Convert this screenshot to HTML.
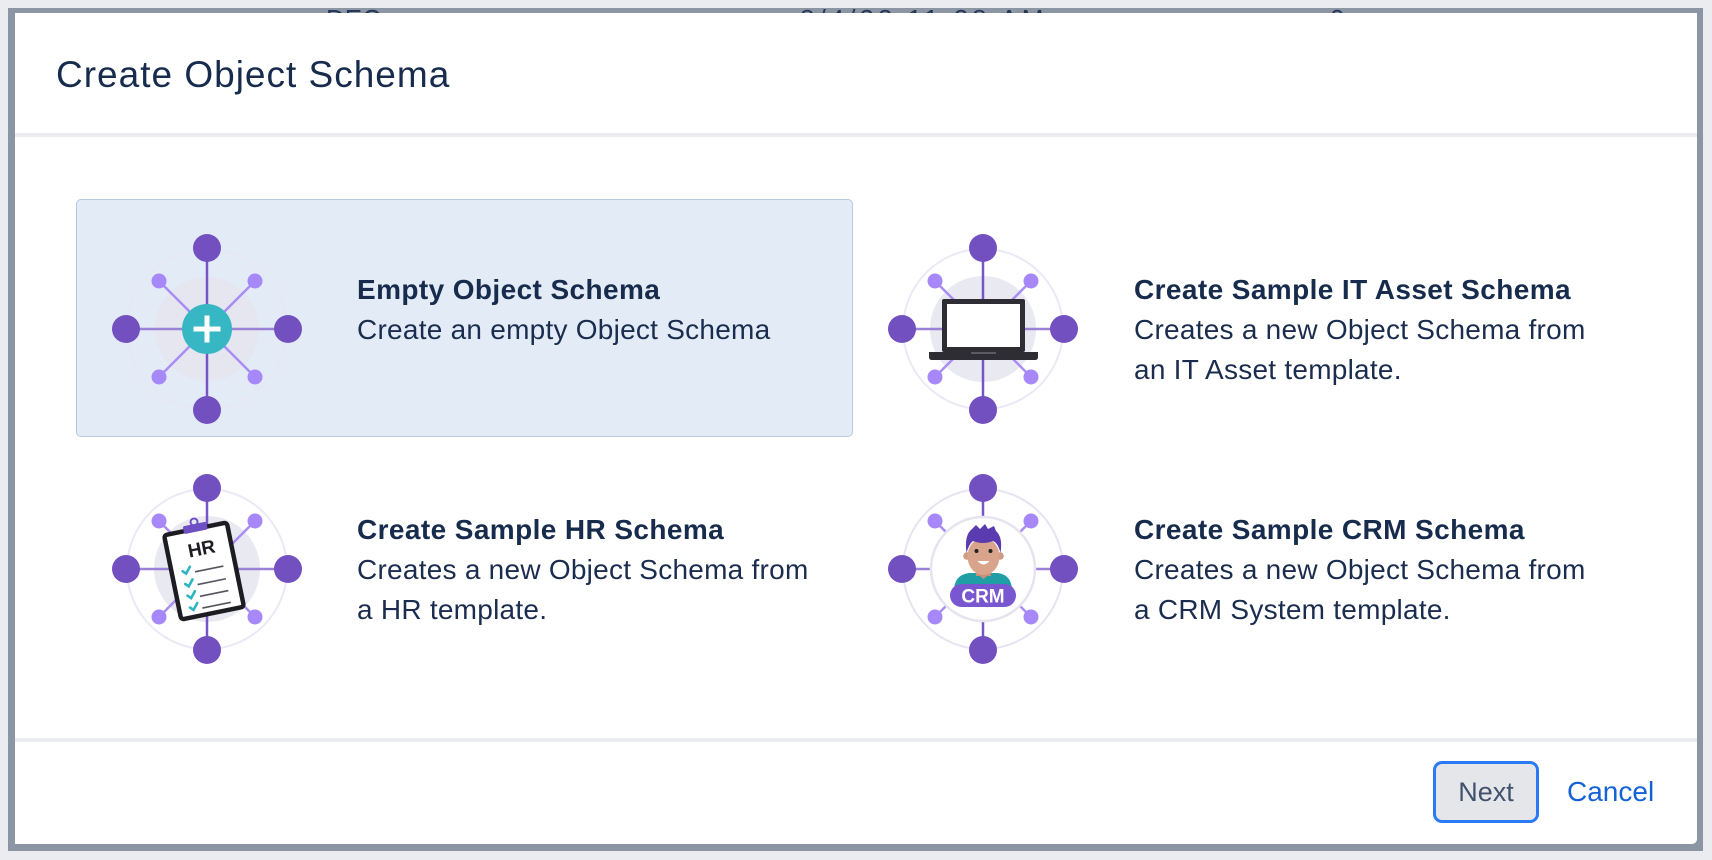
<!DOCTYPE html>
<html><head><meta charset="utf-8"><style>
html,body{margin:0;padding:0;}
body{width:1712px;height:860px;background:#ebecf0;position:relative;overflow:hidden;font-family:"Liberation Sans",Arial,sans-serif;color:#172b4d;}
.abs{position:absolute;}
.frame{left:8px;top:8px;width:1695px;height:843px;background:#8c95a4;}
.panel{left:15px;top:13px;width:1682px;height:831px;background:#fff;border-radius:0 0 5px 0;}
.bgtext{left:0;top:8px;width:1712px;height:5px;overflow:hidden;}
.bgtext span{position:absolute;top:-2px;font-size:26px;line-height:26px;color:#253858;white-space:nowrap;}
.title{left:56px;top:55px;font-size:37px;line-height:40px;letter-spacing:1px;white-space:nowrap;color:#172b4d;}
.sep{left:15px;width:1682px;height:4px;background:#ebecf0;}
.card{left:76px;top:199px;width:777px;height:238px;box-sizing:border-box;background:#e2ebf6;border:1.5px solid #b7c9e2;border-radius:5px;}
.t{font-size:28px;line-height:40px;white-space:nowrap;letter-spacing:0.25px;color:#1b2d4f;}
.t b{font-weight:bold;letter-spacing:0.4px;color:#172b4d;}
.icon{width:200px;height:200px;}
.btn{left:1433px;top:761px;width:106px;height:62px;box-sizing:border-box;border:3px solid #2a7af5;border-radius:9px;background:#e4e6ea;display:flex;align-items:center;justify-content:center;font-size:27px;color:#42526e;}
.cancel{left:1567px;top:772px;font-size:28px;line-height:40px;color:#1462d6;white-space:nowrap;}
</style></head><body>
<div class="abs frame"></div>
<div class="abs bgtext">
  <span style="left:326px;">DEC</span>
  <span style="left:800px;letter-spacing:4px;">8/4/22 11:28 AM</span>
  <span style="left:1330px;">0</span>
</div>
<div class="abs panel"></div>

<div class="abs title">Create Object Schema</div>
<div class="abs sep" style="top:133px;"></div>
<div class="abs sep" style="top:738px;"></div>

<div class="abs card"></div>

<!-- Icon 1: empty schema -->
<svg class="abs icon" style="left:107px;top:229px;" viewBox="0 0 200 200">
  <circle cx="100" cy="100" r="80" fill="none" stroke="#e6e8f3" stroke-width="2"/>
  <circle cx="100" cy="100" r="52" fill="#e6e6f1"/>
  <line x1="100" y1="19" x2="100" y2="181" stroke="#7656c6" stroke-width="2.5"/>
  <line x1="19" y1="100" x2="181" y2="100" stroke="#9a82d6" stroke-width="2.5"/>
  <line x1="52" y1="52" x2="148" y2="148" stroke="#a98cf5" stroke-width="2.5"/>
  <line x1="148" y1="52" x2="52" y2="148" stroke="#a98cf5" stroke-width="2.5"/>
  <circle cx="100" cy="19" r="14" fill="#7350c0"/>
  <circle cx="100" cy="181" r="14" fill="#7350c0"/>
  <circle cx="19" cy="100" r="14" fill="#7350c0"/>
  <circle cx="181" cy="100" r="14" fill="#7350c0"/>
  <circle cx="52" cy="52" r="7.5" fill="#a688f8"/>
  <circle cx="148" cy="52" r="7.5" fill="#a688f8"/>
  <circle cx="52" cy="148" r="7.5" fill="#a688f8"/>
  <circle cx="148" cy="148" r="7.5" fill="#a688f8"/>
  <circle cx="100" cy="100" r="25" fill="#36b7c3"/>
  <rect x="86.5" y="97.5" width="27" height="5" fill="#fff"/>
  <rect x="97.5" y="86.5" width="5" height="27" fill="#fff"/>
</svg>

<!-- Icon 2: laptop -->
<svg class="abs icon" style="left:883px;top:229px;" viewBox="0 0 200 200">
  <circle cx="100" cy="100" r="80" fill="none" stroke="#ebe9f5" stroke-width="2"/>
  <circle cx="100" cy="100" r="53" fill="#e9e9f1"/>
  <line x1="100" y1="19" x2="100" y2="181" stroke="#7656c6" stroke-width="2.5"/>
  <line x1="19" y1="100" x2="181" y2="100" stroke="#9a82d6" stroke-width="2.5"/>
  <line x1="52" y1="52" x2="148" y2="148" stroke="#a98cf5" stroke-width="2.5"/>
  <line x1="148" y1="52" x2="52" y2="148" stroke="#a98cf5" stroke-width="2.5"/>
  <circle cx="100" cy="19" r="14" fill="#7350c0"/>
  <circle cx="100" cy="181" r="14" fill="#7350c0"/>
  <circle cx="19" cy="100" r="14" fill="#7350c0"/>
  <circle cx="181" cy="100" r="14" fill="#7350c0"/>
  <circle cx="52" cy="52" r="7.5" fill="#a688f8"/>
  <circle cx="148" cy="52" r="7.5" fill="#a688f8"/>
  <circle cx="52" cy="148" r="7.5" fill="#a688f8"/>
  <circle cx="148" cy="148" r="7.5" fill="#a688f8"/>
  <rect x="59" y="70" width="83" height="53" rx="2" fill="#2d2d33"/>
  <rect x="64" y="75" width="73" height="43" fill="#fff"/>
  <path d="M46 123 H155 V128 Q155 131 152 131 H49 Q46 131 46 128 Z" fill="#2d2d33"/>
  <rect x="88" y="123" width="25" height="2" fill="#5a5a62"/>
</svg>

<!-- Icon 3: HR clipboard -->
<svg class="abs icon" style="left:107px;top:469px;" viewBox="0 0 200 200">
  <circle cx="100" cy="100" r="80" fill="none" stroke="#ebe9f5" stroke-width="2"/>
  <circle cx="100" cy="100" r="53" fill="#e9e9f1"/>
  <line x1="100" y1="19" x2="100" y2="181" stroke="#7656c6" stroke-width="2.5"/>
  <line x1="19" y1="100" x2="181" y2="100" stroke="#9a82d6" stroke-width="2.5"/>
  <line x1="52" y1="52" x2="148" y2="148" stroke="#a98cf5" stroke-width="2.5"/>
  <line x1="148" y1="52" x2="52" y2="148" stroke="#a98cf5" stroke-width="2.5"/>
  <circle cx="100" cy="19" r="14" fill="#7350c0"/>
  <circle cx="100" cy="181" r="14" fill="#7350c0"/>
  <circle cx="19" cy="100" r="14" fill="#7350c0"/>
  <circle cx="181" cy="100" r="14" fill="#7350c0"/>
  <circle cx="52" cy="52" r="7.5" fill="#a688f8"/>
  <circle cx="148" cy="52" r="7.5" fill="#a688f8"/>
  <circle cx="52" cy="148" r="7.5" fill="#a688f8"/>
  <circle cx="148" cy="148" r="7.5" fill="#a688f8"/>
  <g transform="translate(97 102) rotate(-11.5)">
    <rect x="-32" y="-43" width="64" height="86" rx="3" fill="#fff" stroke="#1c1c22" stroke-width="4.5"/>
    <circle cx="0" cy="-50" r="3.5" fill="none" stroke="#6f4fc4" stroke-width="2"/>
    <rect x="-12" y="-48" width="24" height="8" rx="2" fill="#6f4fc4"/>
    <text x="2" y="-16" text-anchor="middle" font-family="Liberation Sans, Arial, sans-serif" font-weight="bold" font-size="19" fill="#1c1c22">HR</text>
    <g stroke="#2cb5c2" stroke-width="2.6" fill="none" stroke-linecap="round">
      <path d="M-21 -4 l3 3 l5 -6"/>
      <path d="M-21 9 l3 3 l5 -6"/>
      <path d="M-21 21 l3 3 l5 -6"/>
      <path d="M-21 33 l3 3 l5 -6"/>
    </g>
    <g stroke="#55555e" stroke-width="1.6">
      <line x1="-9" y1="-1" x2="20" y2="-1"/>
      <line x1="-9" y1="12" x2="20" y2="12"/>
      <line x1="-9" y1="24" x2="20" y2="24"/>
      <line x1="-9" y1="36" x2="20" y2="36"/>
    </g>
  </g>
</svg>

<!-- Icon 4: CRM -->
<svg class="abs icon" style="left:883px;top:469px;" viewBox="0 0 200 200">
  <circle cx="100" cy="100" r="80" fill="none" stroke="#e7e4f2" stroke-width="2"/>
  <line x1="100" y1="19" x2="100" y2="181" stroke="#7656c6" stroke-width="2.5"/>
  <line x1="19" y1="100" x2="181" y2="100" stroke="#9a82d6" stroke-width="2.5"/>
  <line x1="52" y1="52" x2="148" y2="148" stroke="#a98cf5" stroke-width="2.5"/>
  <line x1="148" y1="52" x2="52" y2="148" stroke="#a98cf5" stroke-width="2.5"/>
  <circle cx="100" cy="100" r="52" fill="#fff" stroke="#e6e4ef" stroke-width="2.5"/>
  <circle cx="100" cy="19" r="14" fill="#7350c0"/>
  <circle cx="100" cy="181" r="14" fill="#7350c0"/>
  <circle cx="19" cy="100" r="14" fill="#7350c0"/>
  <circle cx="181" cy="100" r="14" fill="#7350c0"/>
  <circle cx="52" cy="52" r="7.5" fill="#a688f8"/>
  <circle cx="148" cy="52" r="7.5" fill="#a688f8"/>
  <circle cx="52" cy="148" r="7.5" fill="#a688f8"/>
  <circle cx="148" cy="148" r="7.5" fill="#a688f8"/>
  <path d="M71 122 Q71 106 86 104 L115 104 Q129 106 129 122 Z" fill="#1f9fa5"/>
  <rect x="93" y="96" width="15" height="11" fill="#c98f78"/>
  <path d="M93 104 L100.5 110 L108 104 Z" fill="#c98f78"/>
  <circle cx="84" cy="87" r="3.8" fill="#cf9a82"/>
  <circle cx="117" cy="87" r="3.8" fill="#cf9a82"/>
  <ellipse cx="100.5" cy="87.5" rx="16" ry="18.5" fill="#d9a48c"/>
  <path d="M83.5 84 Q81 66 89 60 L93 56 L97 60 L102 55 L105 60 L111 57 L113 62 Q120 68 117.5 84 Q115 74 110 72 Q100 76 90 72 Q86 75 83.5 84 Z" fill="#5a3cb0"/>
  <circle cx="93.5" cy="82" r="2" fill="#222"/>
  <circle cx="107.5" cy="82" r="2" fill="#222"/>
  <path d="M94.5 92 Q100.5 99 106.5 92 Z" fill="#fff"/>
  <rect x="67" y="115" width="66" height="23" rx="11.5" fill="#7857d1"/>
  <text x="100" y="133.5" text-anchor="middle" font-family="Liberation Sans, Arial, sans-serif" font-weight="bold" font-size="19" fill="#fff">CRM</text>
</svg>

<div class="abs t" style="left:357px;top:270px;"><b>Empty Object Schema</b><br>Create an empty Object Schema</div>
<div class="abs t" style="left:1134px;top:270px;"><b>Create Sample IT Asset Schema</b><br>Creates a new Object Schema from<br>an IT Asset template.</div>
<div class="abs t" style="left:357px;top:510px;"><b>Create Sample HR Schema</b><br>Creates a new Object Schema from<br>a HR template.</div>
<div class="abs t" style="left:1134px;top:510px;"><b>Create Sample CRM Schema</b><br>Creates a new Object Schema from<br>a CRM System template.</div>

<div class="abs btn">Next</div>
<div class="abs cancel">Cancel</div>
</body></html>
